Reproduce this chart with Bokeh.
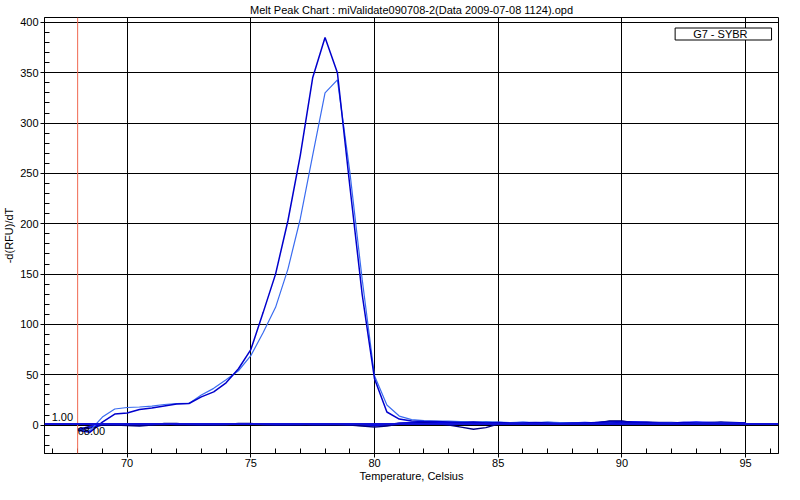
from bokeh.plotting import figure
from bokeh.models import Span, Label, SingleIntervalTicker, Range1d
from bokeh.embed import file_html
from bokeh.resources import INLINE

title_text = "Melt Peak Chart : miValidate090708-2(Data 2009-07-08 1124).opd"
x_label = "Temperature, Celsius"
y_label = "-d(RFU)/dT"
legend_text = "G7 - SYBR"

threshold = 1.00
melt_marker = 68.00

temps = [68.0, 68.5, 69.0, 69.5, 70.0, 70.5, 71.0, 71.5, 72.0, 72.5,
         73.0, 73.5, 74.0, 74.5, 75.0, 75.5, 76.0, 76.5, 77.0, 77.5,
         78.0, 78.5, 79.0, 79.5, 80.0, 80.5, 81.0, 81.5, 82.0, 82.5,
         83.0, 83.5, 84.0, 84.5, 85.0, 85.5, 86.0, 86.5, 87.0, 87.5,
         88.0, 88.5, 89.0, 89.5, 90.0, 90.5, 91.0, 91.5, 92.0, 92.5,
         93.0, 93.5, 94.0, 94.5, 95.0]

well_dark = [-5, -7, 3, 11, 12, 15.5, 17, 19, 21, 21.5,
             28, 33, 42, 56, 75, 112, 150, 203, 268, 345,
             385, 350, 238, 130, 46, 13, 6, 4, 3.5, 3.5,
             3, 2.5, 3, 2, 2.5, 2, 2, 2.5, 2, 1.5,
             2, 2, 2.5, 3, 3, 2.5, 2, 2, 2, 2.5,
             2, 2, 2, 2, 2]

well_light = [-5, -5.5, 8, 16, 17.5, 18, 18.8, 20.5, 21.4, 21.5,
              30, 36.5, 45, 54, 69, 92, 117, 155, 205, 268,
              330, 343, 252, 145, 49, 20, 9, 5.5, 4.5, 4,
              4, 3.5, 3, 3.5, 3, 2.5, 3, 2.5, 3, 2.5,
              2.5, 2, 2, 2.5, 1, 1, 1.5, 2, 2.5, 2,
              2.5, 2, 2.5, 2, 1]

well_navy = [-5, -3, 0, 0, -0.5, -1, 0, 1.5, 1.5, 0.5,
             0, 0, 0.5, 1.5, 1.5, 0.5, 0, 0, 0.5, 0,
             0, 0.5, 0, -1, -2, -1, 1, 1.5, 2, 1.5,
             0, -2, -4, -2.5, 1, 1, 2, 1.5, 2, 1.5,
             1, 1, 2, 4, 4, 2, 2, 1.5, 1.5, 2,
             2, 1.5, 2.5, 1.5, 1]

well_blue = [-4, -2, 0.5, 0.5, 0.5, 1, 1, 1, 0.5, 0.5,
             0.5, 1, 1, 1, 1, 1, 0.5, 0.5, 0.5, 1,
             1, 1, 0.5, 0.5, 0, 0.5, 1.5, 2, 2.5, 2.5,
             2, 1.5, 1.5, 1, 1.5, 2, 2.5, 2, 1.5, 1.5,
             2, 2.5, 2, 2.5, 3, 3, 2.5, 2, 2, 2.5,
             3, 2.5, 2, 2, 1.5]

well_mid = [-4.5, -1, 1, 0.5, 0, 0, 0.5, 0.5, 1, 1,
            1, 0.5, 0.5, 1, 1, 0.5, 0.5, 1, 1, 0.5,
            0.5, 0.5, 0, -0.5, -1, 0, 2, 2.5, 3, 3,
            2.5, 2, 2.5, 2.5, 2, 1.5, 1.5, 2, 2.5, 2,
            1.5, 1.5, 2.5, 3.5, 3.5, 3, 3, 2.5, 2.5, 2,
            2, 2.5, 3, 2.5, 2]

FONT = "Liberation Sans"

p = figure(width=784, height=484,
           x_range=Range1d(66.66, 96.33), y_range=Range1d(-28.2, 404.9),
           output_backend="svg", toolbar_location=None,
           title=title_text,
           min_border_left=30, min_border_right=6,
           min_border_top=0, min_border_bottom=0)

p.background_fill_color = "white"
p.border_fill_color = "white"
p.outline_line_color = "black"
p.outline_line_width = 1
p.outline_line_alpha = 1

p.title.text_font = FONT
p.title.text_font_size = "11px"
p.title.text_font_style = "normal"
p.title.align = "center"
p.title.text_color = "black"
p.title.standoff = 3
p.title.offset = 0

xt = SingleIntervalTicker(interval=5, num_minor_ticks=5)
yt = SingleIntervalTicker(interval=50, num_minor_ticks=5)
p.xaxis.ticker = xt
p.yaxis.ticker = yt
p.xgrid.ticker = xt
p.ygrid.ticker = yt

for ax in (p.xaxis[0], p.yaxis[0]):
    ax.axis_line_color = "black"
    ax.major_tick_line_color = "black"
    ax.minor_tick_line_color = "black"
    ax.major_tick_in = 0
    ax.minor_tick_out = 0
    ax.minor_tick_in = 5
    ax.major_label_text_font = FONT
    ax.major_label_text_font_size = "11px"
    ax.major_label_text_color = "black"
    ax.axis_label_text_font = FONT
    ax.axis_label_text_font_size = "11px"
    ax.axis_label_text_font_style = "normal"
    ax.axis_label_text_color = "black"

p.xaxis.axis_label = x_label
p.yaxis.axis_label = y_label
p.xaxis.major_tick_out = 4
p.xaxis.major_label_standoff = 1
p.xaxis.axis_label_standoff = 0
p.yaxis.major_tick_out = 4
p.yaxis.major_label_standoff = 2
p.yaxis.axis_label_standoff = 2

for g in (p.xgrid[0], p.ygrid[0]):
    g.grid_line_color = "black"
    g.grid_line_width = 1
    g.grid_line_alpha = 1

# reference markers
p.add_layout(Span(location=melt_marker, dimension="height",
                  line_color="#f06850", line_width=1))

# near-zero wells
p.line(temps, well_mid, line_color="#1e1eb4", line_width=1.5)
p.line(temps, well_blue, line_color="#0000ff", line_width=1.5)
p.line(temps, well_navy, line_color="#000080", line_width=1.5)

p.add_layout(Span(location=threshold, dimension="width",
                  line_color="#1010d8", line_width=2))

# main wells
p.line(temps, well_light, line_color="#3a6cf0", line_width=1.2)
p.line(temps, well_dark, line_color="#0000cc", line_width=1.5)

p.add_layout(Label(x=66.95, y=threshold, y_offset=3, text="%.2f" % threshold,
                   text_align="left", text_baseline="bottom",
                   text_font=FONT, text_font_size="11px", text_color="black"))
p.add_layout(Label(x=melt_marker, y=threshold, x_offset=0, y_offset=-3,
                   text="%.2f" % melt_marker,
                   text_align="left", text_baseline="top",
                   text_font=FONT, text_font_size="11px", text_color="black"))

p.add_layout(Label(x=94.1, y=388.5, text=legend_text,
                   text_align="center", text_baseline="middle",
                   text_font=FONT, text_font_size="11px", text_color="black",
                   padding=dict(left=18, right=24, top=0, bottom=0),
                   border_line_color="black", border_line_width=1,
                   background_fill_color="white"))

open("out.html", "w").write(file_html(p, INLINE))
